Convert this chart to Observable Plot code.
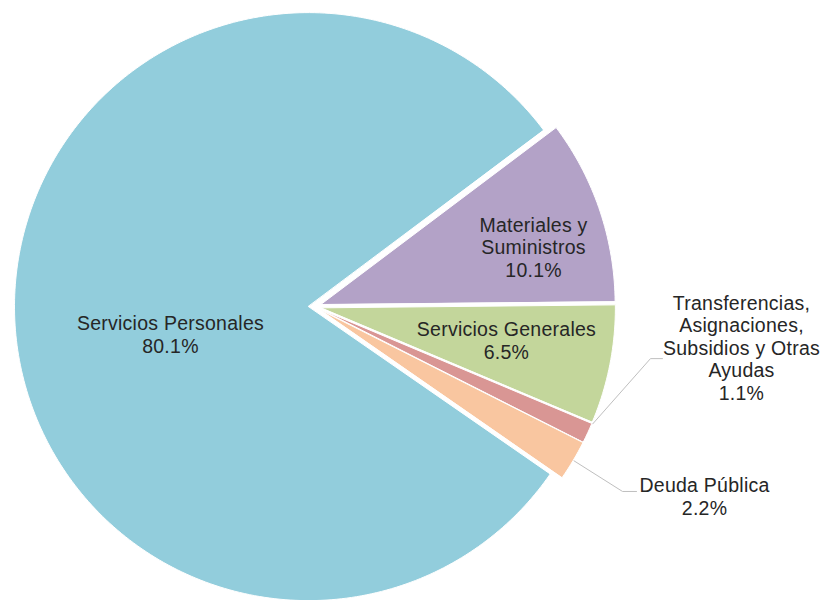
<!DOCTYPE html>
<html>
<head>
<meta charset="utf-8">
<script src="https://cdn.jsdelivr.net/npm/d3@7"></script>
<script src="https://cdn.jsdelivr.net/npm/@observablehq/plot@0.6"></script>
<style>
  html, body { margin: 0; padding: 0; background: #fff; }
  #chart svg { display: block; }
</style>
</head>
<body>
<div id="chart"></div>
<script>
// ---- data ----
const categories = [
  "Servicios Personales",
  "Materiales y Suministros",
  "Servicios Generales",
  "Transferencias, Asignaciones, Subsidios y Otras Ayudas",
  "Deuda Pública"
];
const values = [80.1, 10.1, 6.5, 1.1, 2.2];
const colors = ["#92CDDC", "#B3A2C7", "#C3D69B", "#D99694", "#F9C6A0"];
// how each category name is wrapped in its label
const wrappedNames = [
  "Servicios Personales",
  "Materiales y\nSuministros",
  "Servicios Generales",
  "Transferencias,\nAsignaciones,\nSubsidios y Otras\nAyudas",
  "Deuda Pública"
];

// ---- layout ----
const W = 832, H = 600;
const CX = 314, CY = 306, R = 294, START_DEG = 124.7;
const explode = [6, 7, 7, 7, 7];
// label placement: angle offset from slice bisector (deg), distance as fraction of R
const labelPlacement = [
  {da: -9.8, r: 0.499},
  {da: 3.6, r: 0.772},
  {da: -1.1, r: 0.663},
  {da: -19.3, r: 1.459},
  {da: -4.77, r: 1.4756}
];
// leader lines (for outside labels): where on the arc they start (fraction of slice span),
// elbow and end relative to the label centre
const leaderLayout = {
  3: {at: 0.0, elbow: [-91, 11], end: [-79, 11]},
  4: {at: 0.5, elbow: [-82, -5], end: [-68, -5]}
};

const rad = d => d * Math.PI / 180;
const pie = d3.pie().sort(null).value(d => d)
  .startAngle(rad(START_DEG)).endAngle(rad(START_DEG + 360));
const arcs = pie(values);

const slicePts = [];
const labels = [];
const leaderPts = [];
arcs.forEach((a, i) => {
  const cat = categories[i];
  const mid = (a.startAngle + a.endAngle) / 2;
  const ox = CX + explode[i] * Math.sin(mid);
  const oy = CY - explode[i] * Math.cos(mid);
  slicePts.push({cat, x: ox, y: oy});
  const span = a.endAngle - a.startAngle;
  const n = Math.max(4, Math.ceil(span * 180 / Math.PI));
  for (let k = 0; k <= n; k++) {
    const t = a.startAngle + span * k / n;
    slicePts.push({cat, x: ox + R * Math.sin(t), y: oy - R * Math.cos(t)});
  }
  const lp = labelPlacement[i];
  const la = mid + rad(lp.da);
  const lx = CX + lp.r * R * Math.sin(la);
  const ly = CY - lp.r * R * Math.cos(la);
  labels.push({cat, x: lx, y: ly, text: wrappedNames[i] + "\n" + values[i].toFixed(1) + "%"});
  const ld = leaderLayout[i];
  if (ld) {
    const t = a.startAngle + span * ld.at;
    leaderPts.push({cat, x: ox + (R + 1) * Math.sin(t), y: oy - (R + 1) * Math.cos(t)});
    leaderPts.push({cat, x: lx + ld.elbow[0], y: ly + ld.elbow[1]});
    leaderPts.push({cat, x: lx + ld.end[0], y: ly + ld.end[1]});
  }
});

const chart = Plot.plot({
  width: W,
  height: H,
  margin: 0,
  style: {background: "#fff", letterSpacing: "0.25px", overflow: "hidden"},
  x: {domain: [0, W], range: [0, W], axis: null},
  y: {domain: [0, H], range: [0, H], axis: null},
  color: {domain: categories, range: colors},
  marks: [
    Plot.line(slicePts, {
      x: "x", y: "y", z: "cat", fill: "cat",
      stroke: "white", strokeWidth: 1, curve: "linear-closed"
    }),
    Plot.line(leaderPts, {
      x: "x", y: "y", z: "cat", stroke: "#bfbfbf", strokeWidth: 1, curve: "linear"
    }),
    Plot.text(labels, {
      x: "x", y: "y", text: "text",
      fontSize: 19.5, lineHeight: 1.16,
      fontFamily: "'Liberation Sans', Arial, sans-serif",
      fill: "#262626", textAnchor: "middle"
    })
  ]
});
document.getElementById("chart").appendChild(chart);
</script>
</body>
</html>
